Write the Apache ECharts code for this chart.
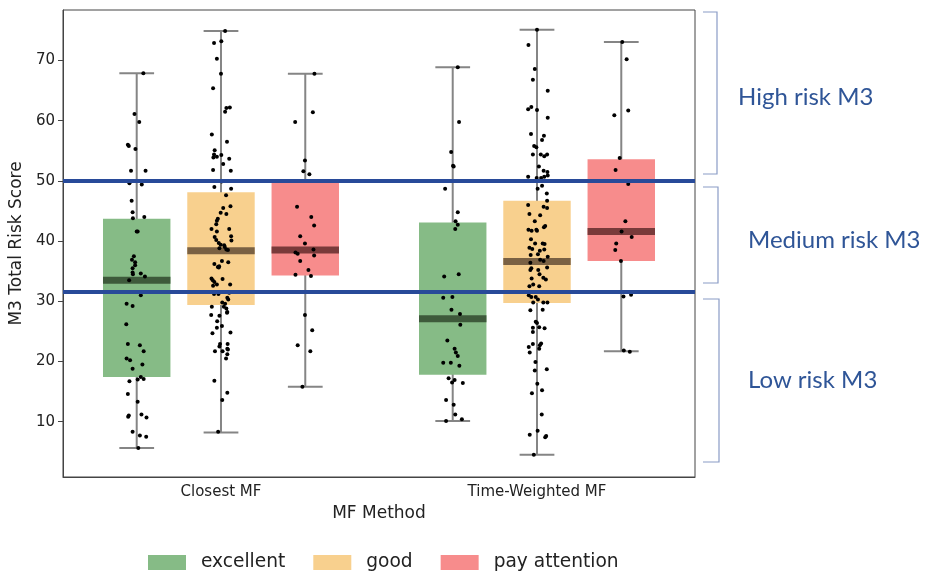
<!DOCTYPE html>
<html><head><meta charset="utf-8">
<script src="https://cdn.jsdelivr.net/npm/echarts@6/dist/echarts.min.js"></script>
<style>html,body{margin:0;padding:0;background:#fff}#c{width:945px;height:583px}</style>
</head><body><div id="c"></div>
<script>
// ---------- DATA ----------
const categories = ['Closest MF', 'Time-Weighted MF'];
const hues = ['excellent', 'good', 'pay attention'];
const yTicks = [10, 20, 30, 40, 50, 60, 70];
const riskThresholds = [50, 31.6];
const riskLabels = ['High risk M3', 'Medium risk M3', 'Low risk M3'];

// box statistics per category: [lower whisker, Q1, median, Q3, upper whisker]
const excellentStats = [[5.6, 17.4, 33.5, 43.7, 67.9], [10.1, 17.8, 27.1, 43.1, 68.9]];
const goodStats      = [[8.2, 29.4, 38.4, 48.1, 74.9], [4.5, 29.7, 36.6, 46.7, 75.1]];
const payStats       = [[15.8, 34.3, 38.5, 49.7, 67.8], [21.7, 36.7, 41.6, 53.6, 73.1]];

// individual observations: [score, horizontal jitter (x-axis units)]
const closestExcellent = [[67.9,0.021],[61.1,-0.007],[59.8,0.008],[56.0,-0.028],[55.8,-0.025],[55.3,-0.004],[51.7,-0.018],[51.7,0.028],[49.6,-0.023],[49.4,0.016],[46.7,-0.016],[44.8,-0.013],[43.8,-0.012],[44.0,0.024],[41.6,0],[41.6,0.003],[37.5,-0.009],[36.9,-0.015],[36.5,-0.005],[36.0,-0.005],[35.5,-0.013],[34.8,-0.013],[34.5,-0.012],[34.6,0.013],[34.1,0.026],[33.5,-0.024],[31.0,0.013],[29.6,-0.032],[29.2,-0.013],[26.2,-0.033],[22.9,-0.028],[22.7,0.010],[21.7,0.022],[20.5,-0.032],[20.2,-0.021],[19.5,0.018],[18.8,-0.013],[17.4,0.013],[17.1,0.022],[17.0,0.003],[16.7,-0.023],[14.6,-0.028],[13.3,0.003],[10.8,-0.027],[11.0,-0.025],[11.2,0.015],[10.7,0.031],[8.3,-0.013],[7.7,0.010],[7.5,0.030],[5.6,0.005]];
const closestGood = [[74.9,0.013],[72.9,-0.022],[73.2,0.001],[70.3,-0.013],[67.8,0],[65.4,-0.025],[62.1,0.017],[62.2,0.028],[61.5,0.013],[57.7,-0.029],[56.5,0.019],[55.1,-0.020],[54.4,-0.022],[53.9,-0.024],[54.0,-0.013],[54.3,0.001],[53.7,0.026],[52.8,0.007],[51.8,-0.025],[51.7,0.031],[49.9,0.002],[49.0,-0.021],[48.7,0.032],[47.6,0.016],[45.8,0.030],[45.5,0.007],[44.7,-0.001],[44.5,0.017],[43.7,-0.010],[43.4,-0.013],[42.8,-0.015],[42.0,-0.030],[42.0,0.026],[41.6,-0.013],[40.8,0.032],[40.7,-0.020],[40.1,0.033],[40.2,-0.015],[39.7,-0.007],[39.4,-0.001],[39.3,0.010],[38.8,-0.005],[39.0,0.012],[38.6,0.017],[38.5,0.022],[36.7,0.003],[36.5,0.023],[36.2,-0.021],[35.7,-0.010],[35.6,-0.007],[35.8,-0.006],[33.8,-0.030],[33.5,-0.026],[33.2,-0.021],[33.7,0.005],[32.6,-0.025],[32.8,-0.013],[32.8,0.029],[31.2,-0.022],[31.2,-0.008],[31.4,0.026],[30.6,0.020],[30.3,0.023],[29.8,0.004],[29.6,0.013],[28.8,0.017],[29.1,0.009],[29.1,-0.029],[28.2,0.020],[28.1,0.019],[27.7,-0.031],[27.6,-0.005],[26.7,-0.012],[25.9,0.003],[25.6,-0.013],[24.7,-0.027],[24.8,0.030],[22.9,-0.003],[22.5,-0.005],[22.9,0.021],[22.1,0.020],[22.0,0.022],[21.7,0.005],[21.7,-0.019],[21.2,0.020],[20.5,0.016],[16.8,-0.021],[14.8,0.020],[13.6,0.004],[8.3,-0.009]];
const closestPay = [[67.8,0.029],[61.4,0.024],[59.8,-0.032],[53.4,-0.001],[51.6,-0.006],[51.1,0.013],[45.7,-0.026],[44.0,0.019],[42.6,0.028],[40.8,-0.016],[39.6,-0.001],[38.6,0.026],[38.1,-0.031],[37.9,-0.024],[37.6,0.028],[36.7,-0.016],[35.2,0.010],[34.4,-0.031],[34.2,0.018],[27.7,-0.001],[25.2,0.022],[22.7,-0.024],[21.7,0.016],[15.8,-0.009]];
const weightedExcellent = [[68.9,0.016],[59.8,0.020],[54.8,-0.005],[52.5,0.001],[52.4,0.003],[48.7,-0.024],[44.8,0.016],[43.3,0.009],[42.7,0.016],[42.0,0.008],[34.1,-0.027],[34.5,0.019],[30.6,-0.030],[30.7,-0.001],[28.6,-0.004],[27.9,0.023],[26.1,0.024],[23.5,-0.017],[22.1,0.006],[21.5,0.010],[20.9,0.016],[19.8,-0.030],[19.8,-0.006],[19.3,0.021],[17.2,-0.013],[16.9,0.006],[16.5,-0.002],[16.4,0.032],[13.6,-0.021],[12.8,0.003],[11.2,0.008],[10.4,0.029],[10.1,-0.021]];
const weightedGood = [[75.1,0],[72.6,-0.027],[68.6,-0.007],[66.8,-0.013],[65.0,0.034],[61.9,-0.028],[62.3,-0.018],[61.8,0],[60.5,0.034],[57.8,-0.019],[57.5,0.022],[56.8,0.016],[55.8,-0.009],[55.6,-0.002],[54.4,-0.013],[54.4,0.012],[54.1,0.023],[54.4,0.032],[52.4,0.006],[51.7,0.021],[51.5,0.033],[50.7,-0.028],[50.5,-0.001],[50.5,0.013],[50.7,0.023],[50.9,0.034],[49.2,0.016],[48.7,0.002],[47.9,0.031],[46.7,0.032],[45.7,0.021],[45.5,0.032],[46.0,-0.028],[44.5,-0.024],[44.3,0.010],[43.3,-0.007],[42.3,0.022],[42.5,0.026],[41.9,-0.027],[41.7,-0.017],[41.9,-0.002],[41.7,0],[40.3,-0.019],[39.6,-0.006],[39.6,0.018],[39.5,0.024],[38.9,-0.024],[38.7,-0.015],[38.6,0.023],[38.4,0.009],[37.7,-0.020],[37.8,0.003],[37.4,0.034],[36.4,-0.021],[36.9,0.010],[36.7,0.021],[35.6,0.032],[35.5,-0.018],[35.2,-0.021],[35.2,0.004],[34.5,0.008],[33.9,0.020],[33.6,0.028],[33.8,-0.017],[32.8,-0.012],[32.5,0.007],[32.5,-0.024],[31.0,-0.026],[30.7,-0.018],[30.7,-0.004],[29.8,-0.012],[30.3,0.003],[29.8,0.020],[29.8,0.033],[28.5,-0.021],[28.6,0.018],[26.6,-0.004],[26.4,0],[25.6,-0.013],[25.7,0.007],[25.5,0.024],[24.9,-0.013],[23.0,0.013],[22.7,0.009],[22.9,-0.013],[22.4,-0.026],[21.5,-0.023],[22.1,0.007],[19.9,-0.005],[18.5,-0.007],[18.7,0.031],[16.3,0.001],[14.7,-0.016],[15.2,0.016],[11.2,0.015],[8.5,0.002],[7.8,-0.023],[7.6,0.029],[7.4,0.026],[4.5,-0.010]];
const weightedPay = [[73.1,0.003],[70.2,0.017],[60.9,-0.022],[61.7,0.022],[53.8,-0.005],[51.8,-0.018],[49.5,0.022],[43.3,0.013],[41.6,0.001],[40.7,0.033],[39.6,-0.016],[38.5,-0.019],[36.7,-0.001],[30.8,0.007],[31.1,0.031],[21.8,0.008],[21.6,0.027]];

// ---------- STYLE / LAYOUT ----------
const boxFill   = ['#86bb86', '#f8d08e', '#f78c8c'];
const medianCol = ['#3e5a3b', '#7a6143', '#793a3a'];
const hueOffset = [-0.2667, 0, 0.2667];
const boxHalf = 0.1067;
const capHalf = 0.055;
const lineBlue = '#284a99';
const textBlue = '#2F5597';
const bracketCol = '#8a9cc6';
const FONT = 'DejaVu Sans';

const statsByHue = [excellentStats, goodStats, payStats];
const pointsByHue = [[closestExcellent, weightedExcellent], [closestGood, weightedGood], [closestPay, weightedPay]];

function renderBox(h) {
  return function (params, api) {
    const g = api.value(0);
    const cx = g + hueOffset[h];
    const lo = api.coord([cx, api.value(1)]);
    const q1 = api.coord([cx + boxHalf, api.value(2)]);
    const med = api.coord([cx, api.value(3)]);
    const q3 = api.coord([cx - boxHalf, api.value(4)]);
    const hi = api.coord([cx, api.value(5)]);
    const capW = api.size([capHalf, 0])[0];
    const grayStyle = { stroke: '#858585', lineWidth: 2 };
    return {
      type: 'group',
      children: [
        { type: 'line', shape: { x1: lo[0], y1: lo[1], x2: hi[0], y2: hi[1] }, style: grayStyle },
        { type: 'line', shape: { x1: lo[0] - capW, y1: lo[1], x2: lo[0] + capW, y2: lo[1] }, style: grayStyle },
        { type: 'line', shape: { x1: hi[0] - capW, y1: hi[1], x2: hi[0] + capW, y2: hi[1] }, style: grayStyle },
        { type: 'rect', shape: { x: q3[0], y: q3[1], width: q1[0] - q3[0], height: q1[1] - q3[1] }, style: { fill: boxFill[h] } },
        { type: 'rect', shape: { x: q3[0], y: med[1] - 3.5, width: q1[0] - q3[0], height: 7 }, style: { fill: medianCol[h] } }
      ]
    };
  };
}

const series = [];
hues.forEach(function (name, h) {
  series.push({
    name: name,
    type: 'custom',
    xAxisIndex: 1,
    renderItem: renderBox(h),
    itemStyle: { color: boxFill[h] },
    encode: { x: 0, y: [1, 2, 3, 4, 5] },
    data: statsByHue[h].map(function (s, g) { return [g].concat(s); }),
    z: 2,
    silent: true
  });
});

const pts = [];
pointsByHue.forEach(function (groups, h) {
  groups.forEach(function (arr, g) {
    arr.forEach(function (p) { pts.push([g + hueOffset[h] + p[1], p[0]]); });
  });
});
series.push({
  type: 'scatter',
  xAxisIndex: 1,
  data: pts,
  symbolSize: 4,
  itemStyle: { color: '#000', opacity: 1 },
  z: 3,
  silent: true
});
series.push({
  type: 'line',
  xAxisIndex: 1,
  data: [],
  z: 4,
  silent: true,
  markLine: {
    silent: true,
    symbol: 'none',
    label: { show: false },
    lineStyle: { color: lineBlue, width: 4, type: 'solid' },
    data: riskThresholds.map(function (v) { return { yAxis: v }; })
  }
});

const chart = echarts.init(document.getElementById('c'), null, { renderer: 'canvas' });

function bracket(y1, y2, x) {
  return {
    type: 'polyline',
    shape: { points: [[703, y1], [x, y1], [x, y2], [703, y2]] },
    style: { stroke: bracketCol, lineWidth: 1.2, fill: null }
  };
}
function label(text, x, y) {
  return {
    type: 'text', x: x, y: y,
    style: { text: text, fill: textBlue, font: '24px Lato', verticalAlign: 'middle', align: 'left' }
  };
}

chart.setOption({
  animation: false,
  backgroundColor: '#fff',
  grid: { left: 55, top: 10, right: 250, bottom: 106, show: true, borderColor: '#444', borderWidth: 1, backgroundColor: 'transparent' },
  legend: {
    data: hues,
    left: 148,
    top: 553,
    padding: 0,
    icon: 'rect',
    itemWidth: 38,
    itemHeight: 15,
    itemGap: 28,
    textStyle: { fontFamily: FONT, fontSize: 18.6, color: '#222', padding: [0, 0, 0, 10] },
    selectedMode: false
  },
  xAxis: [
    {
      type: 'category',
      data: categories,
      boundaryGap: true,
      name: 'MF Method',
      nameLocation: 'middle',
      nameGap: 27,
      nameTextStyle: { fontFamily: FONT, fontSize: 17, color: '#222' },
      axisLine: { onZero: false, lineStyle: { color: '#444', width: 1 } },
      axisTick: { alignWithLabel: true, length: 5, lineStyle: { color: '#444' } },
      axisLabel: { fontFamily: FONT, fontSize: 15, color: '#222', margin: 8 },
      splitLine: { show: false }
    },
    {
      type: 'value',
      min: -0.5,
      max: 1.5,
      show: false,
      axisLine: { onZero: false },
      splitLine: { show: false }
    }
  ],
  yAxis: {
    type: 'value',
    min: 0.8,
    max: 78.4,
    name: 'M3 Total Risk Score',
    nameLocation: 'middle',
    nameGap: 34,
    nameTextStyle: { fontFamily: FONT, fontSize: 17, color: '#222' },
    axisLine: { show: true, onZero: false, lineStyle: { color: '#444', width: 1 } },
    axisTick: { show: true, length: 5, customValues: yTicks, lineStyle: { color: '#444' } },
    axisLabel: { fontFamily: FONT, fontSize: 15, color: '#222', margin: 8, customValues: yTicks },
    splitLine: { show: false }
  },
  graphic: [
    bracket(12, 174, 717),
    bracket(187, 283, 718),
    bracket(299, 462, 719),
    label(riskLabels[0], 738, 97),
    label(riskLabels[1], 748, 240),
    label(riskLabels[2], 748, 380)
  ],
  series: series
});
</script>
</body></html>
